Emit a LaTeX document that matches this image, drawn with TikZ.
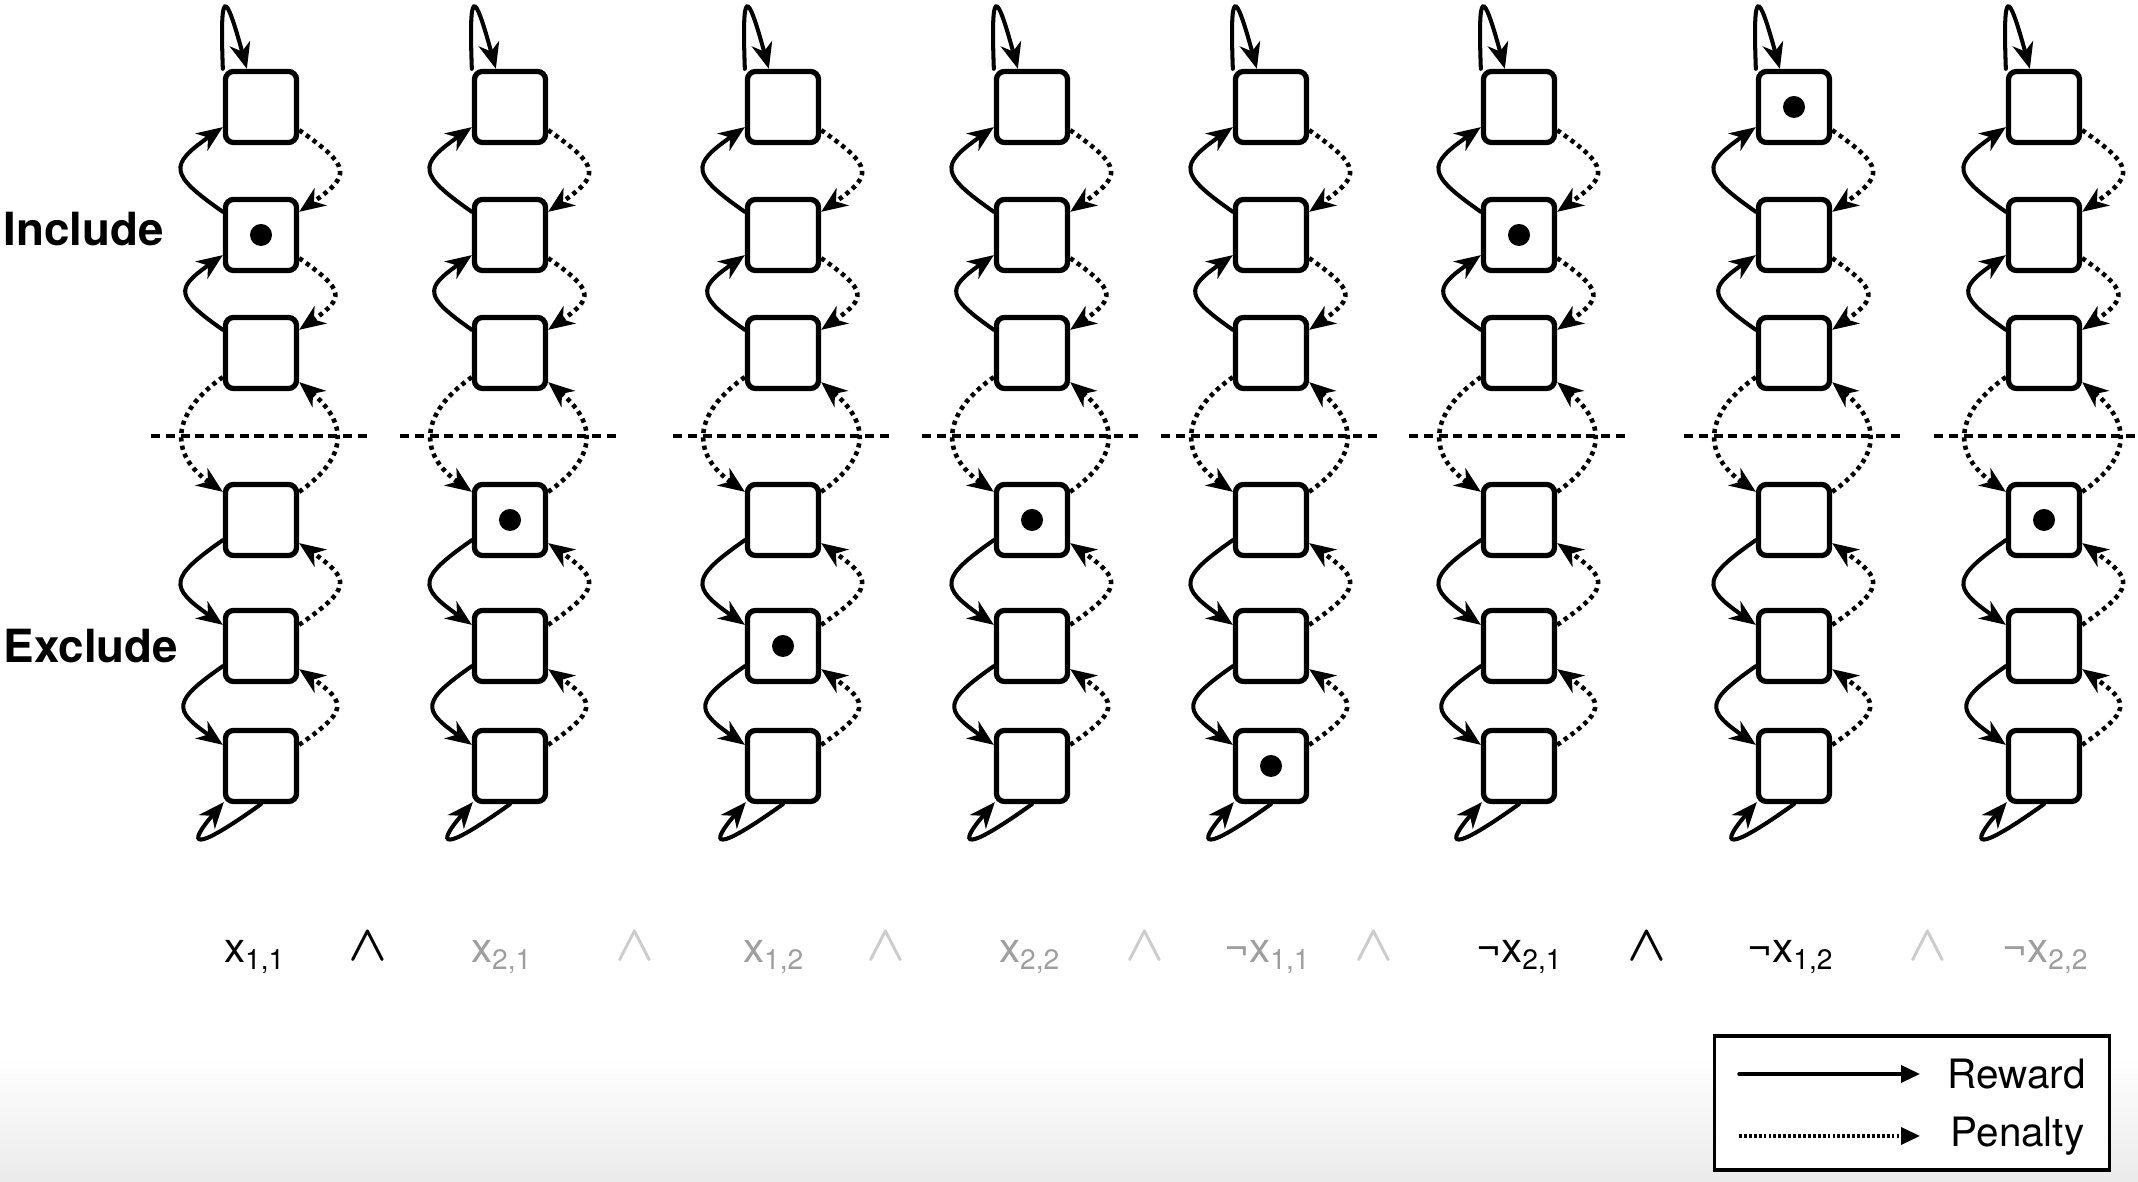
\documentclass[tikz,border=0pt]{standalone}
\usepackage{fontspec}
\setmainfont{TeX Gyre Heros}
\usetikzlibrary{arrows.meta,positioning}

\begin{document}
\begin{tikzpicture}
		[x=0.01cm,y=0.01cm,line cap=round,
		%Styles
		cell/.style={draw,line width=1.5pt,rounded corners=0.8mm,minimum size=0.71cm,inner sep=0pt},
		token/.style={circle,fill,inner sep=0pt,minimum size=2.2mm},
		reward/.style={line width=1.15pt,-{Stealth[length=2.6mm,width=2.1mm,inset=0.8mm]}},
		penalty/.style={line width=1.3pt,line cap=butt,dash pattern=on 1.2pt off 1.2pt,-{Stealth[length=2.6mm,width=2.1mm,inset=0.8mm]}},
		separator/.style={line width=1.05pt,line cap=butt,dash pattern=on 2.6pt off 1.6pt},
		side text/.style={anchor=west,inner sep=0pt,font=\bfseries\fontsize{13}{15}\selectfont},
		literal/.style={anchor=base,inner sep=0pt,font=\fontsize{12}{14}\selectfont},
		conj/.style={anchor=base,inner sep=0pt,font=\fontsize{15}{15}\selectfont\boldmath},
		legend text/.style={inner sep=0pt,font=\fontsize{11.5}{13}\selectfont}
		]
		
		%Colors
		\colorlet{faded}{black!38}	%inactive literals
		\colorlet{fadedconj}{black!20}
		
		\useasboundingbox (0,0) rectangle (2138,1182);
		\shade[top color=white,bottom color=black!8] (0,0) rectangle (2138,125);
		
		%The graphic
		\foreach \cx [count=\c] in {261,510,783,1032,1271,1519,1794,2044}{
			\foreach \ry [count=\r] in {1075,947,829,662,536,416}
				\node[cell] (c\c r\r) at (\cx,\ry) {};
			\draw[separator] (\cx-110,746) -- (\cx+110,746);
			
			% include side
			\draw[reward] ([yshift=-1.5mm]c\c r2.north west) to[out=145,in=215,looseness=2] ([yshift=1.8mm]c\c r1.south west);
			\draw[reward] ([yshift=-1.5mm]c\c r3.north west) to[out=145,in=215,looseness=2] ([yshift=1.8mm]c\c r2.south west);
			\draw[penalty] ([yshift=1.5mm]c\c r1.south east) to[out=-35,in=35,looseness=2] ([yshift=-1.5mm]c\c r2.north east);
			\draw[penalty] ([yshift=1.5mm]c\c r2.south east) to[out=-35,in=35,looseness=2] ([yshift=-1.5mm]c\c r3.north east);
			
			% crossing
			\draw[penalty] ([yshift=1.4mm]c\c r3.south west) to[out=215,in=145,looseness=1.45] ([yshift=-1mm]c\c r4.north west);
			\draw[penalty] ([yshift=-1mm]c\c r4.north east) to[out=35,in=-40,looseness=1.45] ([yshift=0.9mm]c\c r3.south east);
			
			% exclude side
			\draw[reward] ([yshift=1.8mm]c\c r4.south west) to[out=215,in=145,looseness=2] ([yshift=-1.7mm]c\c r5.north west);
			\draw[reward] ([yshift=1.8mm]c\c r5.south west) to[out=215,in=145,looseness=2] ([yshift=-1.7mm]c\c r6.north west);
			\draw[penalty] ([yshift=-1.7mm]c\c r5.north east) to[out=35,in=-35,looseness=2] ([yshift=1.5mm]c\c r4.south east);
			\draw[penalty] ([yshift=-1.7mm]c\c r6.north east) to[out=35,in=-35,looseness=2] ([yshift=1.5mm]c\c r5.south east);
			
			% loops at the ends
			\draw[reward] (c\c r1.north west) .. controls +(-3,81) and +(-22,80) .. ([xshift=2.4mm]c\c r1.north west);
			\draw[reward] (c\c r6.south) .. controls +(-70,-50) and +(-37,-43) .. ([xshift=0.1mm,yshift=0.2mm]c\c r6.south west);
		}
		
		\foreach \c/\r in {1/2,2/4,3/5,4/4,5/6,6/2,7/1,8/4}
			\node[token] (dot\c) at (c\c r\r) {};
		
		\node[side text] (include) at (3,953) {Include};
		\node[side text] (exclude) at (3,536) {Exclude};
		
		% clause
		\foreach \lx/\lit/\idx/\col [count=\i] in {255/x/{1,1}/black,502/x/{2,1}/faded,774/x/{1,2}/faded,1030/x/{2,2}/faded,1268/¬x/{1,1}/faded,1520/¬x/{2,1}/black,1791/¬x/{1,2}/black,2046/¬x/{2,2}/faded}
			\node[literal,text=\col] (lit\i) at (\lx,219) {\lit\textsubscript{\idx}};
		\foreach \wx/\col [count=\i] in {368/black,635/fadedconj,886/fadedconj,1145/fadedconj,1374/fadedconj,1647/black,1928/fadedconj}
			\node[conj,text=\col] (and\i) at (\wx,221) {$\wedge$};
		
		% legend
		\node[draw,fill=white,line width=1pt,minimum width=3.95cm,minimum height=1.34cm,inner sep=0pt] (legend) at (1912,79) {};
		\coordinate (rw-a) at (1739,108);
		\coordinate (rw-b) at (1920,108);
		\coordinate (pn-a) at (1739,46);
		\coordinate (pn-b) at (1920,46);
		\draw[line width=1pt,-{Triangle[length=1.9mm,width=1.7mm]}] (rw-a) -- (rw-b);
		\draw[line width=1pt,line cap=butt,dash pattern=on 0.8pt off 0.6pt,-{Triangle[length=1.9mm,width=1.7mm]}] (pn-a) -- (pn-b);
		\node[legend text,anchor=west,right=0.27cm of rw-b] (reward) {Reward};
		\node[legend text,anchor=west,right=0.3cm of pn-b] (penalty) {Penalty};
	\end{tikzpicture}
\end{document}
